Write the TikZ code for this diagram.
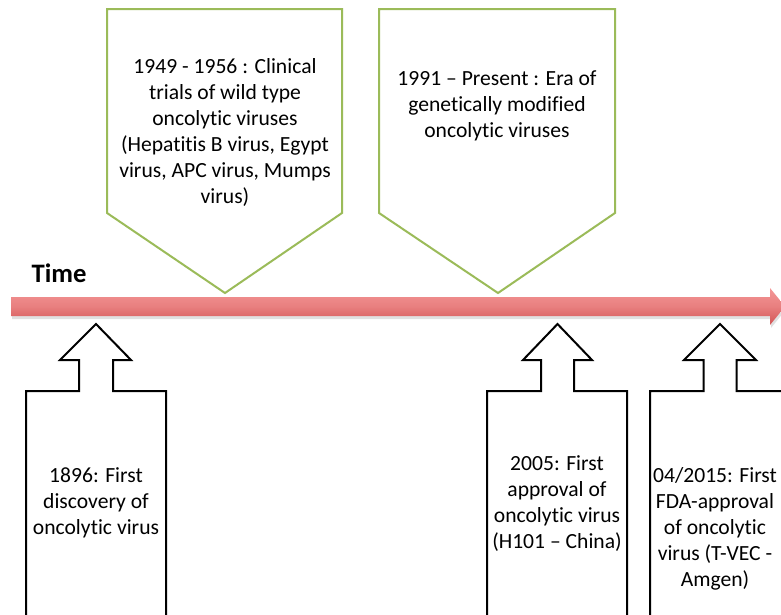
\documentclass[tikz,border=0pt]{standalone}
\usepackage{fontspec}
\setmainfont{Carlito}[Ligatures=NoCommon]
\definecolor{grn}{RGB}{155,187,89}
\definecolor{barTop}{RGB}{244,150,150}
\definecolor{barBot}{RGB}{210,84,84}
\begin{document}
\begin{tikzpicture}[x=0.75pt,y=-0.75pt,
  lbl/.style={align=center,font=\fontsize{16.2}{19.5}\selectfont,text=black,inner sep=0pt},
  topbox/.style={draw=grn,line width=1.5pt,fill=white,line join=miter},
  botbox/.style={draw=black,line width=1.5pt,fill=white,line join=miter}]
\useasboundingbox (0,0) rectangle (781,614);
\clip (0,0) rectangle (781,614);
% top callouts
\draw[topbox] (107,9) -- (342,9) -- (342,213) -- (225,293) -- (107,213) -- cycle;
\draw[topbox] (379,9) -- (615,9) -- (615,213) -- (498,293) -- (379,213) -- cycle;
% timeline
\fill[black!12] (12,300) -- (771,300) -- (771,291) -- (786,309.5) -- (771,328) -- (771,319) -- (12,319) -- cycle;
\shade[top color=barTop,bottom color=barBot,middle color=barTop!65!barBot]
  (11,297) -- (770,297) -- (770,288) -- (785,306.5) -- (770,325) -- (770,316) -- (11,316) -- cycle;
% bottom callouts
\draw[botbox] (26,630) -- (26,391) -- (79,391) -- (79,360) -- (60,360) -- (96,324) -- (131,360) -- (113,360) -- (113,391) -- (166,391) -- (166,630);
\draw[botbox] (487,630) -- (487,391) -- (541,391) -- (541,360) -- (523,360) -- (557.5,324) -- (592,360) -- (574,360) -- (574,391) -- (627,391) -- (627,630);
\draw[botbox] (650,630) -- (650,391) -- (703.5,391) -- (703.5,360) -- (684,360) -- (720,324) -- (756,360) -- (736.5,360) -- (736.5,391) -- (790,391) -- (790,630);
% texts
\node[lbl] (t1) at (225,132) {1949 - 1956 : Clinical\\trials of wild type\\oncolytic viruses\\(Hepatitis B virus, Egypt\\virus, APC virus, Mumps\\virus)};
\node[lbl] (t2) at (497,106) {1991 -- Present : Era of\\genetically modified\\oncolytic viruses};
\node[lbl,font=\fontsize{20}{24}\selectfont\bfseries,text=black] (time) at (59,273) {Time};
\node[lbl] (b1) at (96,503) {1896: First\\discovery of\\oncolytic virus};
\node[lbl] (b2) at (557,504) {2005: First\\approval of\\oncolytic virus\\(H101 -- China)};
\node[lbl] (b3) at (715,529) {04/2015: First\\FDA-approval\\of oncolytic\\virus (T-VEC -\\Amgen)};
\end{tikzpicture}
\end{document}
